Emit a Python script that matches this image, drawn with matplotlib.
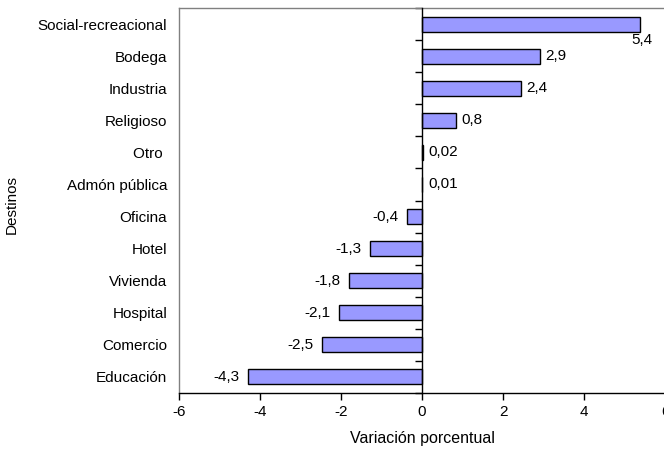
import matplotlib
matplotlib.use("Agg")
import matplotlib.pyplot as plt
from matplotlib.ticker import FixedLocator

plt.rcParams['font.family'] = ['Liberation Sans', 'DejaVu Sans']

categories = ["Social-recreacional", "Bodega", "Industria", "Religioso", "Otro ",
              "Admón pública", "Oficina", "Hotel", "Vivienda", "Hospital",
              "Comercio", "Educación"]
values = [5.39, 2.91, 2.44, 0.84, 0.02, 0.01, -0.38, -1.28, -1.81, -2.06, -2.47, -4.29]
labels = ["5,4", "2,9", "2,4", "0,8", "0,02", "0,01", "-0,4", "-1,3", "-1,8",
          "-2,1", "-2,5", "-4,3"]
xticks = [-6, -4, -2, 0, 2, 4, 6]

FS = 11

fig = plt.figure(figsize=(6.64, 4.53), dpi=100)
ax = fig.add_axes([179/664, 1-393/453, (665-179)/664, (393-8)/453])

ypos = list(range(len(categories)))
ax.barh(ypos, values, height=0.47, color="#9999FF", edgecolor="black", linewidth=1, zorder=3)

ax.set_xlim(-6, 6)
ax.set_ylim(len(categories) - 0.5, -0.5)
ax.set_xticks(xticks)
ax.set_xticklabels([str(t) for t in xticks])
ax.set_yticks(ypos)
ax.set_yticklabels(categories)
ax.yaxis.set_minor_locator(FixedLocator([i + 0.5 for i in range(-1, len(categories))]))

ax.tick_params(axis='y', which='major', length=0, pad=8.5, labelsize=FS)
ax.tick_params(axis='y', which='minor', left=False, right=True, direction='in', length=5, width=1, color='black')
ax.tick_params(axis='x', which='major', direction='out', length=5, width=1, color='black', labelsize=FS, pad=4)

for s in ['left', 'top']:
    ax.spines[s].set_color('#808080')
    ax.spines[s].set_linewidth(1)
ax.spines['bottom'].set_color('black')
ax.spines['bottom'].set_linewidth(1)
ax.spines['right'].set_position(('data', 0))
ax.spines['right'].set_color('black')
ax.spines['right'].set_linewidth(1)
ax.spines['right'].set_zorder(4)

for y, v, lab in zip(ypos, values, labels):
    if v >= 5:
        ax.annotate(lab, (v, y + 0.24), xytext=(1, -1), textcoords='offset points',
                    ha='center', va='top', fontsize=FS)
    elif v >= 0:
        ax.annotate(lab, (v, y), xytext=(4, 0), textcoords='offset points',
                    ha='left', va='center', fontsize=FS)
    else:
        ax.annotate(lab, (v, y), xytext=(-6, 0), textcoords='offset points',
                    ha='right', va='center', fontsize=FS)

ax.set_xlabel("Variación porcentual", fontsize=11.5, labelpad=8)
fig.text(12/664, 1-204/453, "Destinos", rotation=90, ha='center', va='center', fontsize=FS)

fig.savefig("out.png", dpi=100)
